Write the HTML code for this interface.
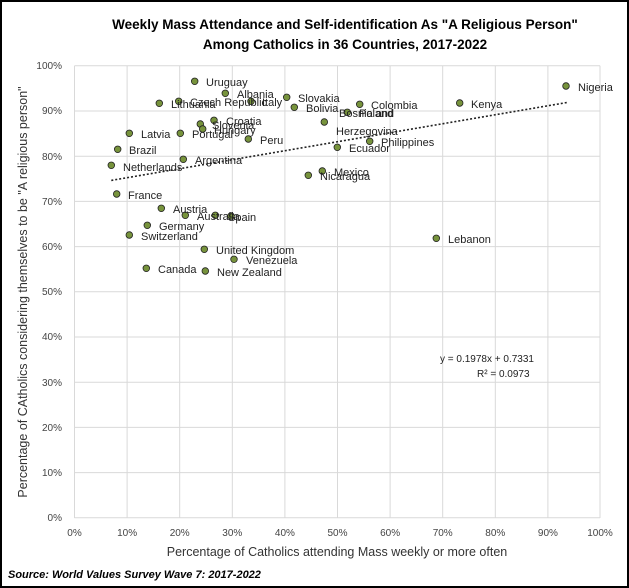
<!DOCTYPE html>
<html><head><meta charset="utf-8"><style>
html,body{margin:0;padding:0;background:#fff}
svg{display:block}
text{font-family:"Liberation Sans",sans-serif}
.l{font-size:11px;fill:#222}
.t{font-size:10px;fill:#444}
</style></head><body>
<svg width="629" height="588" viewBox="0 0 629 588" xmlns="http://www.w3.org/2000/svg">
<rect x="1" y="1" width="627" height="586" fill="#fff" stroke="#000" stroke-width="2"/>
<text x="345" y="29" text-anchor="middle" font-size="13.5" font-weight="bold">Weekly Mass Attendance and Self-identification As "A Religious Person"</text>
<text x="345" y="49" text-anchor="middle" font-size="13.5" font-weight="bold">Among Catholics in 36 Countries, 2017-2022</text>
<g stroke="#d9d9d9" stroke-width="1">
<line x1="74.5" y1="65.8" x2="600" y2="65.8"/><line x1="74.5" y1="111" x2="600" y2="111"/><line x1="74.5" y1="156.2" x2="600" y2="156.2"/><line x1="74.5" y1="201.4" x2="600" y2="201.4"/><line x1="74.5" y1="246.6" x2="600" y2="246.6"/><line x1="74.5" y1="291.8" x2="600" y2="291.8"/><line x1="74.5" y1="337" x2="600" y2="337"/><line x1="74.5" y1="382.2" x2="600" y2="382.2"/><line x1="74.5" y1="427.4" x2="600" y2="427.4"/><line x1="74.5" y1="472.6" x2="600" y2="472.6"/><line x1="74.5" y1="517.8" x2="600" y2="517.8"/>
<line x1="74.5" y1="65.8" x2="74.5" y2="518"/><line x1="127.1" y1="65.8" x2="127.1" y2="518"/><line x1="179.7" y1="65.8" x2="179.7" y2="518"/><line x1="232.3" y1="65.8" x2="232.3" y2="518"/><line x1="284.9" y1="65.8" x2="284.9" y2="518"/><line x1="337.5" y1="65.8" x2="337.5" y2="518"/><line x1="390.1" y1="65.8" x2="390.1" y2="518"/><line x1="442.7" y1="65.8" x2="442.7" y2="518"/><line x1="495.3" y1="65.8" x2="495.3" y2="518"/><line x1="547.9" y1="65.8" x2="547.9" y2="518"/><line x1="600" y1="65.8" x2="600" y2="518"/>
</g>
<g class="t" text-anchor="end">
<text x="62" y="69">100%</text><text x="62" y="114">90%</text><text x="62" y="160">80%</text><text x="62" y="205">70%</text><text x="62" y="250">60%</text><text x="62" y="295">50%</text><text x="62" y="340">40%</text><text x="62" y="386">30%</text><text x="62" y="431">20%</text><text x="62" y="476">10%</text><text x="62" y="521">0%</text>
</g>
<g class="t" text-anchor="middle">
<text x="74.5" y="536">0%</text><text x="127.1" y="536">10%</text><text x="179.7" y="536">20%</text><text x="232.3" y="536">30%</text><text x="284.9" y="536">40%</text><text x="337.5" y="536">50%</text><text x="390.1" y="536">60%</text><text x="442.7" y="536">70%</text><text x="495.3" y="536">80%</text><text x="547.9" y="536">90%</text><text x="600" y="536">100%</text>
</g>
<text x="337" y="556" text-anchor="middle" font-size="12.5" fill="#333">Percentage of Catholics attending Mass weekly or more often</text>
<text transform="translate(27,292) rotate(-90)" text-anchor="middle" font-size="12.5" fill="#333">Percentage of CAtholics considering themselves to be "A religious person"</text>
<text x="8" y="578" font-size="11" font-weight="bold" font-style="italic">Source: World Values Survey Wave 7: 2017-2022</text>
<line x1="111.3" y1="180.4" x2="567" y2="102.5" stroke="#222" stroke-width="1.6" stroke-dasharray="2,2"/>
<text x="440" y="362" font-size="10" fill="#222">y = 0.1978x + 0.7331</text>
<text x="477" y="377" font-size="10" fill="#222">R² = 0.0973</text>
<g fill="#77933c" stroke="#222" stroke-width="0.8">
<circle cx="194.7" cy="81.3" r="3.3"/><circle cx="225.3" cy="93.3" r="3.3"/><circle cx="159.3" cy="103.3" r="3.3"/><circle cx="178.7" cy="101.3" r="3.3"/><circle cx="251" cy="101.3" r="3.3"/><circle cx="286.7" cy="97.3" r="3.3"/><circle cx="294.3" cy="107.3" r="3.3"/><circle cx="359.7" cy="104.3" r="3.3"/><circle cx="347.3" cy="112.3" r="3.3"/><circle cx="324.3" cy="122" r="3.3"/><circle cx="214" cy="120.3" r="3.3"/><circle cx="200.3" cy="124" r="3.3"/><circle cx="202.7" cy="129" r="3.3"/><circle cx="180.3" cy="133.3" r="3.3"/><circle cx="129.3" cy="133.3" r="3.3"/><circle cx="248.3" cy="139" r="3.3"/><circle cx="369.7" cy="141.3" r="3.3"/><circle cx="337.3" cy="147.3" r="3.3"/><circle cx="117.7" cy="149.3" r="3.3"/><circle cx="183.3" cy="159.3" r="3.3"/><circle cx="111.3" cy="165.3" r="3.3"/><circle cx="322.3" cy="171" r="3.3"/><circle cx="308.3" cy="175.3" r="3.3"/><circle cx="116.7" cy="194" r="3.3"/><circle cx="161.3" cy="208.3" r="3.3"/><circle cx="185.3" cy="215.3" r="3.3"/><circle cx="215.3" cy="215.3" r="3.3"/><circle cx="231" cy="216" r="3.3"/><circle cx="147.3" cy="225.3" r="3.3"/><circle cx="129.3" cy="235" r="3.3"/><circle cx="204.3" cy="249.3" r="3.3"/><circle cx="234" cy="259.3" r="3.3"/><circle cx="146.3" cy="268.3" r="3.3"/><circle cx="205.3" cy="271" r="3.3"/><circle cx="436.3" cy="238.3" r="3.3"/><circle cx="459.7" cy="103" r="3.3"/><circle cx="566" cy="86" r="3.3"/>
</g>
<g class="l">
<text x="206" y="86">Uruguay</text><text x="237" y="98">Albania</text><text x="171" y="108">Lithuania</text><text x="190" y="106">Czech Republic</text><text x="262" y="106">Italy</text><text x="298" y="102">Slovakia</text><text x="306" y="112">Bolivia</text><text x="371" y="109">Colombia</text><text x="359" y="117">Poland</text><text x="339" y="117">Bosnia and</text><text x="336" y="135">Herzegovina</text><text x="226" y="125">Croatia</text><text x="212" y="129">Slovenia</text><text x="214" y="134">Hungary</text><text x="192" y="138">Portugal</text><text x="141" y="138">Latvia</text><text x="260" y="144">Peru</text><text x="381" y="146">Philippines</text><text x="349" y="152">Ecuador</text><text x="129" y="154">Brazil</text><text x="195" y="164">Argentina</text><text x="123" y="171">Netherlands</text><text x="334" y="176">Mexico</text><text x="320" y="180">Nicaragua</text><text x="128" y="199">France</text><text x="173" y="213">Austria</text><text x="197" y="220">Australia</text><text x="228" y="221">Spain</text><text x="159" y="230">Germany</text><text x="141" y="240">Switzerland</text><text x="216" y="254">United Kingdom</text><text x="246" y="264">Venezuela</text><text x="158" y="273">Canada</text><text x="217" y="276">New Zealand</text><text x="448" y="243">Lebanon</text><text x="471" y="108">Kenya</text><text x="578" y="91">Nigeria</text>
</g>
</svg>
</body></html>
